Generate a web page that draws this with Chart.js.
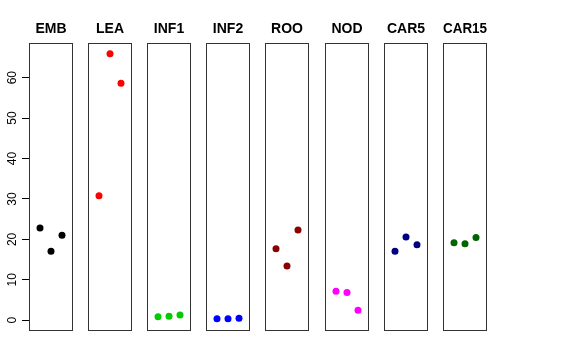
<!DOCTYPE html>
<html>
<head>
<meta charset="utf-8">
<script src="https://cdn.jsdelivr.net/npm/chart.js"></script>
<style>
    html, body { margin: 0; padding: 0; background: #fff; }
    #wrap { position: relative; width: 576px; height: 360px; overflow: hidden; }
    #wrap canvas { position: absolute; top: 0; }
</style>
</head>
<body>
<div id="wrap"></div>
<script>
// Data (3 replicates per tissue)
const panels = ['EMB', 'LEA', 'INF1', 'INF2', 'ROO', 'NOD', 'CAR5', 'CAR15'];
const replicates = [1, 2, 3];
const embValues = [22.8, 17.1, 21.0];
const leaValues = [30.8, 65.9, 58.6];
const inf1Values = [0.9, 1.0, 1.3];
const inf2Values = [0.4, 0.4, 0.5];
const rooValues = [17.7, 13.4, 22.3];
const nodValues = [7.2, 6.9, 2.5];
const car5Values = [17.1, 20.6, 18.7];
const car15Values = [19.2, 18.9, 20.5];
const yTicks = [0, 10, 20, 30, 40, 50, 60];

const seriesValues = [embValues, leaValues, inf1Values, inf2Values, rooValues, nodValues, car5Values, car15Values];
const panelColors = ['#000000', '#FF0000', '#00CD00', '#0000FF', '#8B0000', '#FF00FF', '#000080', '#006400'];

// Layout of the panel row
const firstLeft = 29;
const panelStep = 59.1;
const panelWidth = 44;
const axisWidth = 29;

// Box around each panel
const framePlugin = {
    id: 'frame',
    afterDraw(chart) {
        const a = chart.chartArea;
        const ctx = chart.ctx;
        ctx.save();
        ctx.strokeStyle = '#333';
        ctx.lineWidth = 1;
        const l = Math.round(a.left) + 0.5;
        const t = Math.round(a.top) + 0.5;
        const r = Math.round(a.right) - 0.5;
        const b = Math.round(a.bottom) - 0.5;
        ctx.strokeRect(l, t, r - l, b - t);
        ctx.restore();
    }
};

const wrap = document.getElementById('wrap');

panels.forEach((name, i) => {
    const withAxis = i === 0;
    const canvas = document.createElement('canvas');
    const left = withAxis ? 0 : Math.round(firstLeft + i * panelStep);
    const width = (withAxis ? axisWidth : 0) + panelWidth + 1;
    canvas.style.left = left + 'px';
    canvas.style.width = width + 'px';
    canvas.style.height = '360px';
    canvas.width = width;
    canvas.height = 360;
    wrap.appendChild(canvas);

    const points = replicates.map((x, k) => ({ x: x, y: seriesValues[i][k] }));

    const yScale = {
        type: 'linear',
        display: withAxis,
        min: -2.65,
        max: 68.5,
        afterBuildTicks(scale) {
            scale.ticks = yTicks.map(v => ({ value: v }));
        },
        border: { display: false },
        grid: {
            drawOnChartArea: false,
            drawTicks: true,
            tickLength: 7,
            tickColor: '#000'
        },
        ticks: {
            crossAlign: 'center',
            padding: 3,
            color: '#000',
            font: { family: '"Liberation Sans", Arial, sans-serif', size: 12 }
        }
    };
    if (withAxis) {
        // R style: tick labels read bottom to top
        yScale.afterCalculateLabelRotation = function (scale) {
            scale.labelRotation = 90;
        };
        yScale.afterFit = function (scale) {
            scale.width = axisWidth;
            scale.paddingTop = 0;
            scale.paddingBottom = 0;
        };
    }

    new Chart(canvas, {
        type: 'scatter',
        data: {
            datasets: [{
                label: name,
                data: points,
                backgroundColor: panelColors[i],
                borderColor: panelColors[i],
                borderWidth: 0,
                pointRadius: 3.5,
                pointHoverRadius: 3.5
            }]
        },
        options: {
            responsive: false,
            animation: false,
            layout: {
                autoPadding: false,
                padding: { left: 0, right: 1, top: 0, bottom: 29 }
            },
            plugins: {
                legend: { display: false },
                tooltip: { enabled: false },
                title: {
                    display: true,
                    text: name,
                    fullSize: false,
                    color: '#000',
                    font: { family: '"Liberation Sans", Arial, sans-serif', size: 14, weight: 'bold' },
                    padding: { top: 20.9, bottom: 5.6 }
                }
            },
            scales: {
                x: {
                    type: 'linear',
                    display: false,
                    min: 0,
                    max: 4
                },
                y: yScale
            }
        },
        plugins: [framePlugin]
    });
});
</script>
</body>
</html>
